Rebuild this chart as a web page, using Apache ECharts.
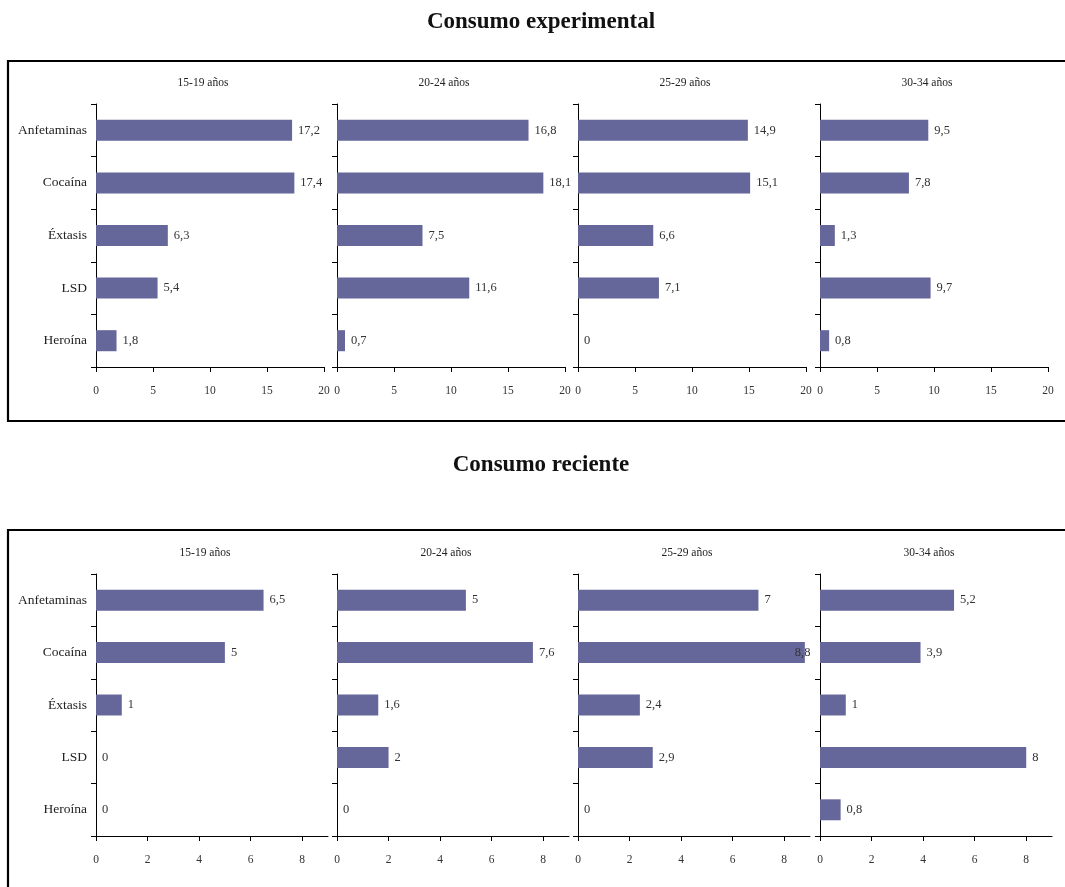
<!DOCTYPE html>
<html>
<head>
<meta charset="utf-8">
<script src="https://cdn.jsdelivr.net/npm/echarts@6/dist/echarts.min.js"></script>
<style>
html,body{margin:0;padding:0;background:#fff;}
#chart{width:1065px;height:887px;}
</style>
</head>
<body>
<div id="chart"></div>
<script>
// ---- data ----
var categories = ['Anfetaminas', 'Cocaína', 'Éxtasis', 'LSD', 'Heroína'];
var ageGroups = ['15-19 años', '20-24 años', '25-29 años', '30-34 años'];
var panelTitles = ['Consumo experimental', 'Consumo reciente'];

// Consumo experimental
var exp_15_19 = [17.2, 17.4, 6.3, 5.4, 1.8];
var exp_20_24 = [16.8, 18.1, 7.5, 11.6, 0.7];
var exp_25_29 = [14.9, 15.1, 6.6, 7.1, 0];
var exp_30_34 = [9.5, 7.8, 1.3, 9.7, 0.8];

// Consumo reciente
var rec_15_19 = [6.5, 5, 1, 0, 0];
var rec_20_24 = [5, 7.6, 1.6, 2, 0];
var rec_25_29 = [7, 8.8, 2.4, 2.9, 0];
var rec_30_34 = [5.2, 3.9, 1, 8, 0.8];

var expTicks = [0, 5, 10, 15, 20];
var recTicks = [0, 2, 4, 6, 8];

// ---- layout / style ----
var FONT = '"Liberation Serif", "DejaVu Serif", serif';
var BAR = '#656699';
var panels = [
  {series: [exp_15_19, exp_20_24, exp_25_29, exp_30_34], ticks: expTicks, max: 20, top: 104, height: 263, width: 228, titleY: 72, mainY: 6},
  {series: [rec_15_19, rec_20_24, rec_25_29, rec_30_34], ticks: recTicks, max: 9, top: 574, height: 262, width: 232, titleY: 542, mainY: 449}
];
var lefts = [96, 337, 578, 820];

var grids = [], xAxes = [], yAxes = [], series = [], titles = [];
function fmt(v) { return String(v).replace('.', ','); }

panels.forEach(function (p, pi) {
  titles.push({
    text: panelTitles[pi], left: 536, top: p.mainY, textAlign: 'center',
    textStyle: {fontFamily: FONT, fontSize: 23, fontWeight: 'bold', color: '#111'}
  });
  p.series.forEach(function (vals, i) {
    var gi = grids.length;
    grids.push({left: lefts[i], top: p.top, width: p.width, height: p.height, containLabel: false});
    titles.push({
      text: ageGroups[i], left: lefts[i] + p.width / 2 - 12, top: p.titleY, textAlign: 'center',
      textStyle: {fontFamily: FONT, fontSize: 11.5, fontWeight: 'normal', color: '#222'}
    });
    xAxes.push({
      type: 'value', gridIndex: gi, min: 0, max: p.max,
      splitLine: {show: false},
      axisLine: {show: true, lineStyle: {color: '#000', width: 1}},
      axisTick: {show: true, length: 5, inside: false, customValues: p.ticks, lineStyle: {color: '#000'}},
      axisLabel: {show: true, customValues: p.ticks, margin: 18, fontFamily: FONT, fontSize: 11.5, color: '#333', formatter: fmt}
    });
    yAxes.push({
      type: 'category', gridIndex: gi, data: categories, inverse: true,
      axisLine: {show: true, lineStyle: {color: '#000', width: 1}},
      axisTick: {show: true, length: 5, lineStyle: {color: '#000'}},
      axisLabel: {show: i === 0, margin: 9, fontFamily: FONT, fontSize: 13.5, color: '#222'}
    });
    series.push({
      type: 'bar', xAxisIndex: gi, yAxisIndex: gi, barCategoryGap: '60%',
      itemStyle: {color: BAR},
      data: vals.map(function (v) {
        var d = {value: v};
        if (v > 0.95 * p.max) d.label = {distance: -10};
        return d;
      }),
      label: {show: true, position: 'right', distance: 6, fontFamily: FONT, fontSize: 12.5, color: '#333',
        formatter: function (o) { return fmt(o.value); }},
      silent: true, animation: false
    });
  });
});

var chart = echarts.init(document.getElementById('chart'), null, {renderer: 'canvas'});
chart.setOption({
  backgroundColor: '#fff',
  animation: false,
  title: titles,
  grid: grids,
  xAxis: xAxes,
  yAxis: yAxes,
  series: series,
  graphic: [
    {type: 'rect', shape: {x: 8, y: 61, width: 1080, height: 360}, style: {fill: 'none', stroke: '#000', lineWidth: 2.2}, silent: true},
    {type: 'rect', shape: {x: 8, y: 530, width: 1080, height: 400}, style: {fill: 'none', stroke: '#000', lineWidth: 2.2}, silent: true}
  ]
});
</script>
</body>
</html>
